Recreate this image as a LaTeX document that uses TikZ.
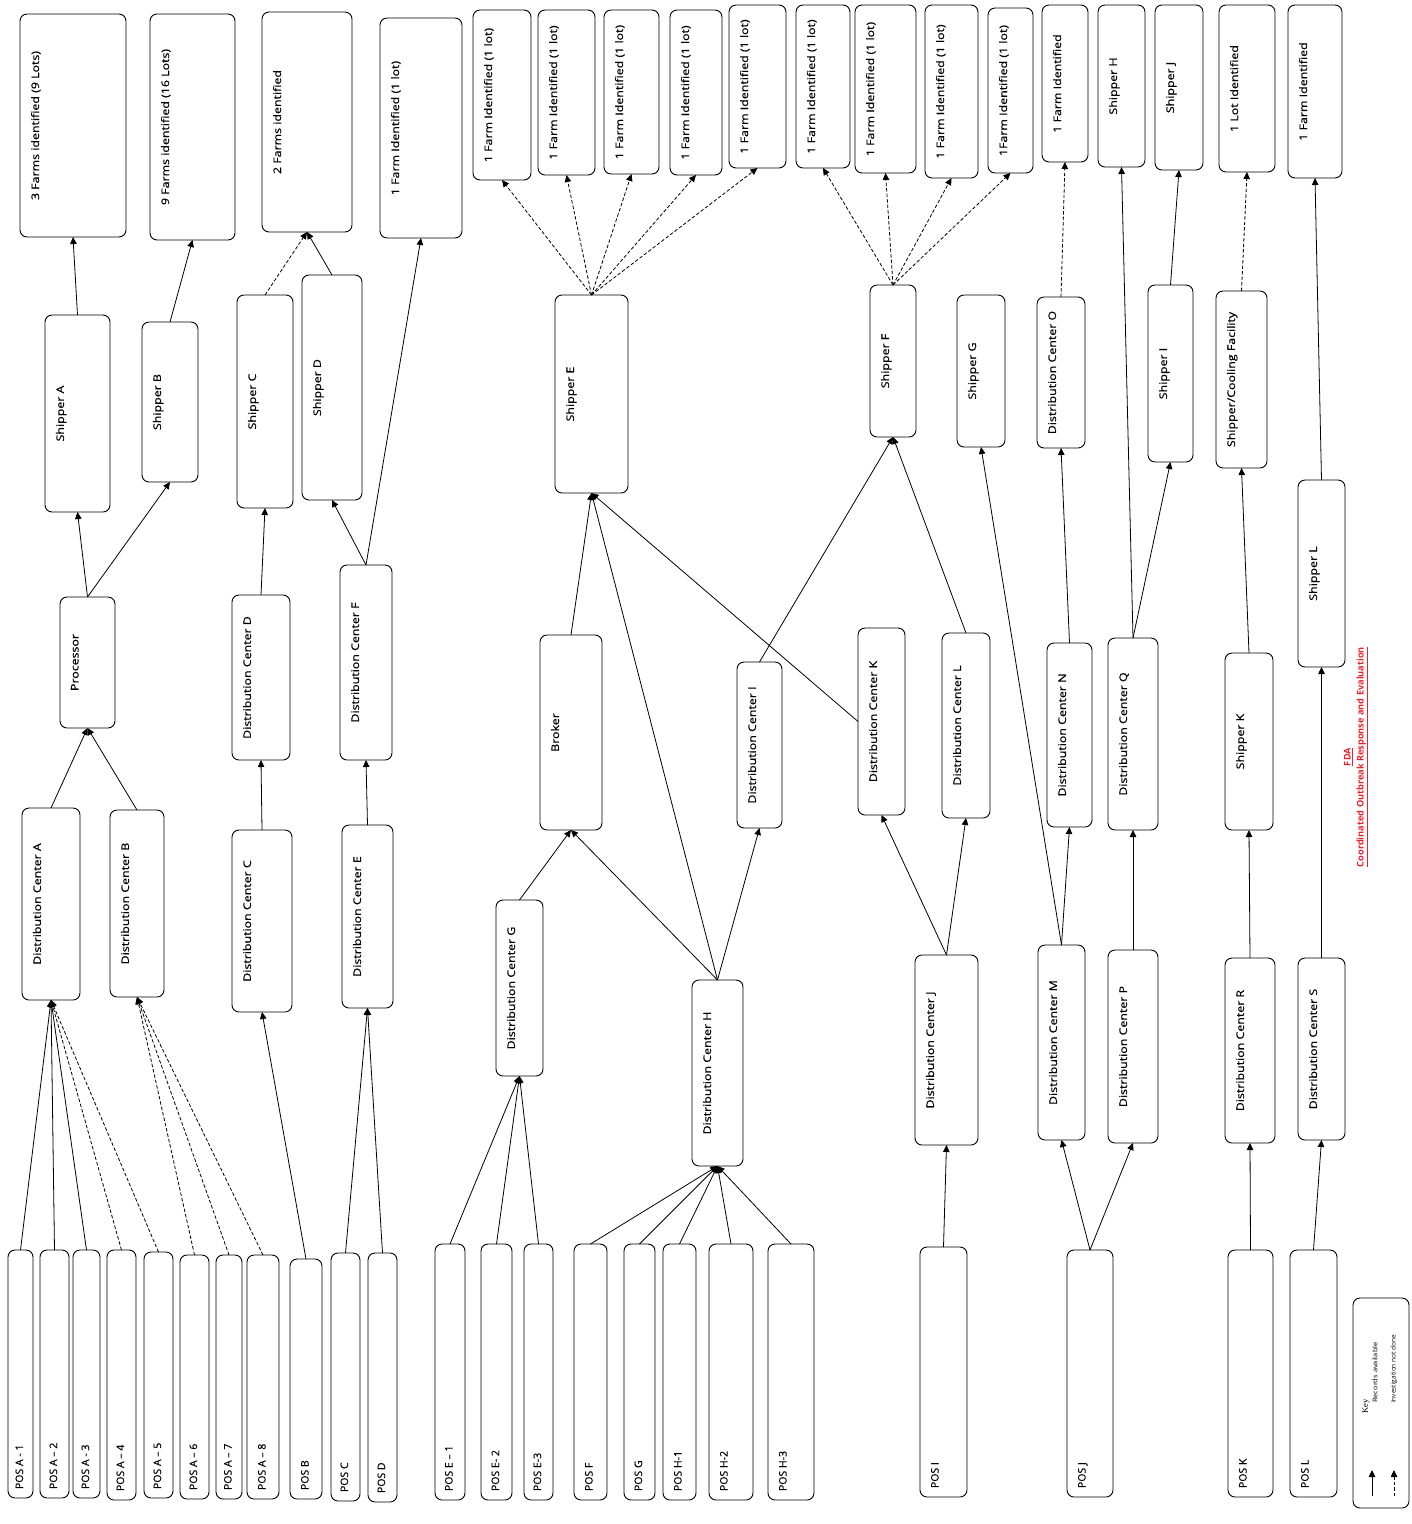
\documentclass[tikz,border=0pt]{standalone}
\usepackage{fontspec}
\setmainfont{Open Sans}
\newfontfamily\boxfont[FakeBold=0.35]{Open Sans}
\newfontfamily\keyfont{Liberation Serif}
\usetikzlibrary{arrows.meta}
\definecolor{fdared}{RGB}{230,35,45}
\tikzset{
  box/.style={draw, line width=0.9pt, rounded corners=7pt, rotate=90, inner sep=0pt, outer sep=0pt,
    font=\boxfont\fontsize{10.5pt}{12pt}\selectfont},
  arr/.style={line width=0.8pt, -{Triangle[length=7pt,width=6.5pt]}},
  dsh/.style={arr, dash pattern=on 3.5pt off 2pt},
}
% name, x1, y1, x2, y2, text  (pixel coordinates of the reference)
\newcommand\bx[6]{%
  \pgfmathsetmacro\rsCX{(#2+#4)/2}%
  \pgfmathsetmacro\rsCY{(#3+#5)/2}%
  \pgfmathsetmacro\rsL{#5-#3}%
  \pgfmathsetmacro\rsW{#4-#2}%
  \pgfmathsetmacro\rsP{min(16,\rsW/2)-5}%
  \node[box] (#1) at (\rsCX,\rsCY) {\parbox[c][\rsW pt][t]{\rsL pt}{\centering\vspace*{\rsP pt}\scalebox{1.18}[1]{#6}\par}};
}
\newcommand\posbx[6]{%
  \pgfmathsetmacro\rsCX{(#2+#4)/2}%
  \pgfmathsetmacro\rsCY{(#3+#5)/2}%
  \pgfmathsetmacro\rsL{#5-#3}%
  \pgfmathsetmacro\rsW{#4-#2}%
  \pgfmathsetmacro\rsP{min(16,\rsW/2)-5}%
  \node[box] (#1) at (\rsCX,\rsCY) {\parbox[c][\rsW pt][t]{\rsL pt}{\vspace*{\rsP pt}\hspace*{9pt}#6\par}};
}
\begin{document}
\begin{tikzpicture}[x=1pt,y=-1pt]
\useasboundingbox (0,0) rectangle (1412,1524);
% ---------------- left group
\bx{farmA}{20}{14}{126}{237}{3 Farms identified (9 Lots)}
\bx{farmB}{150}{14}{235}{240}{9 Farms identified (16 Lots)}
\bx{farmCD}{262}{12}{352}{232}{2 Farms identified}
\bx{farmFa}{380}{18}{462}{238}{1 Farm Identified (1 lot)}
\bx{shA}{45}{315}{110}{512}{Shipper A}
\bx{shB}{142}{322}{198}{482}{Shipper B}
\bx{shC}{237}{295}{293}{508}{Shipper C}
\bx{shD}{302}{275}{362}{500}{Shipper D}
\bx{proc}{60}{597}{115}{728}{Processor}
\bx{dcA}{22}{808}{80}{1000}{Distribution Center A}
\bx{dcB}{110}{810}{164}{997}{Distribution Center B}
\bx{dcD}{232}{595}{290}{760}{Distribution Center D}
\bx{dcC}{232}{830}{292}{1012}{Distribution Center C}
\bx{dcF}{340}{565}{392}{760}{Distribution Center F}
\bx{dcE}{342}{825}{393}{1008}{Distribution Center E}
\posbx{pA1}{8}{1250}{33}{1498}{POS A - 1}
\posbx{pA2}{40}{1250}{69}{1498}{POS A – 2}
\posbx{pA3}{73}{1250}{100}{1498}{POS A - 3}
\posbx{pA4}{107}{1250}{136}{1500}{POS A – 4}
\posbx{pA5}{144}{1252}{173}{1498}{POS A – 5}
\posbx{pA6}{180}{1255}{209}{1499}{POS A – 6}
\posbx{pA7}{216}{1255}{242}{1499}{POS A – 7}
\posbx{pA8}{247}{1255}{279}{1499}{POS A – 8}
\posbx{pB}{290}{1259}{322}{1499}{POS B}
\posbx{pC}{331}{1253}{360}{1501}{POS C}
\posbx{pD}{368}{1253}{397}{1502}{POS D}
% ---------------- middle group
\bx{farmE1}{473}{10}{531}{180}{1 Farm Identified (1 lot)}
\bx{farmE2}{538}{10}{595}{175}{1 Farm Identified (1 lot)}
\bx{farmE3}{604}{10}{659}{174}{1 Farm Identified (1 lot)}
\bx{farmE4}{670}{10}{722}{175}{1 Farm Identified (1 lot)}
\bx{farmE5}{729}{5}{786}{168}{1 Farm Identified (1 lot)}
\bx{shE}{555}{295}{628}{493}{Shipper E}
\bx{broker}{540}{635}{602}{830}{Broker}
\bx{dcG}{496}{900}{543}{1076}{Distribution Center G}
\bx{dcH}{692}{980}{743}{1166}{Distribution Center H}
\posbx{pE1}{435}{1244}{465}{1500}{POS E – 1}
\posbx{pE2}{481}{1244}{512}{1500}{POS E- 2}
\posbx{pE3}{524}{1244}{553}{1500}{POS E-3}
\posbx{pF}{574}{1244}{607}{1500}{POS F}
\posbx{pG}{624}{1244}{655}{1500}{POS G}
\posbx{pH1}{663}{1244}{696}{1500}{POS H-1}
\posbx{pH2}{709}{1244}{753}{1500}{POS H-2}
\posbx{pH3}{768}{1244}{814}{1500}{POS H-3}
\bx{dcI}{737}{662}{782}{828}{Distribution Center I}
\bx{dcK}{858}{628}{905}{815}{Distribution Center K}
\bx{dcL}{942}{633}{990}{818}{Distribution Center L}
\bx{dcJ}{915}{955}{978}{1145}{Distribution Center J}
\posbx{pI}{920}{1247}{967}{1497}{POS I}
\bx{shF}{870}{285}{916}{437}{Shipper F}
\bx{shG}{957}{295}{1005}{447}{Shipper G}
\bx{farmF1}{796}{5}{850}{168}{1 Farm Identified (1 lot)}
\bx{farmF2}{855}{5}{916}{173}{1 Farm Identified (1 lot)}
\bx{farmF3}{925}{5}{978}{178}{1 Farm Identified (1 lot)}
\bx{farmF4}{988}{8}{1033}{173}{1Farm Identified (1 lot)}
% ---------------- right group
\bx{farmO}{1042}{5}{1088}{162}{1 Farm Identified}
\bx{shH}{1098}{5}{1145}{167}{Shipper H}
\bx{shJ}{1155}{5}{1203}{170}{Shipper J}
\bx{lotK}{1219}{5}{1275}{172}{1 Lot Identified}
\bx{farmL}{1288}{5}{1342}{178}{1 Farm Identified}
\bx{dcO}{1037}{297}{1085}{448}{Distribution Center O}
\bx{shI}{1148}{285}{1193}{462}{Shipper I}
\bx{shCool}{1216}{291}{1267}{468}{Shipper/Cooling Facility}
\bx{shL}{1298}{480}{1345}{667}{Shipper L}
\bx{dcN}{1047}{643}{1092}{827}{Distribution Center N}
\bx{dcQ}{1108}{638}{1158}{830}{Distribution Center Q}
\bx{shK}{1225}{653}{1273}{830}{Shipper K}
\bx{dcM}{1038}{945}{1085}{1140}{Distribution Center M}
\bx{dcP}{1108}{950}{1158}{1143}{Distribution Center P}
\bx{dcR}{1225}{958}{1275}{1143}{Distribution Center R}
\bx{dcS}{1298}{958}{1345}{1140}{Distribution Center S}
\posbx{pJ}{1067}{1250}{1113}{1497}{POS J}
\posbx{pK}{1228}{1250}{1273}{1497}{POS K}
\posbx{pL}{1290}{1250}{1337}{1497}{POS L}
% ---------------- edges, left
\foreach \s in {pA1,pA2,pA3} \draw[arr] (\s.east) -- (dcA.west);
\foreach \s in {pA4,pA5} \draw[dsh] (\s.east) -- (dcA.west);
\foreach \s in {pA6,pA7,pA8} \draw[dsh] (\s.east) -- (dcB.west);
\draw[arr] (pB.east) -- (dcC.west);
\draw[arr] (pC.east) -- (dcE.west);
\draw[arr] (pD.east) -- (dcE.west);
\draw[arr] (dcE.east) -- (dcF.west);
\draw[arr] (dcF.east) -- (shD.west);
\draw[arr] (dcF.east) -- (farmFa.west);
\draw[arr] (dcC.east) -- (dcD.west);
\draw[arr] (dcD.east) -- (shC.west);
\draw[dsh] (shC.east) -- (farmCD.west);
\draw[arr] (shD.east) -- (farmCD.west);
\draw[arr] (dcA.east) -- (proc.west);
\draw[arr] (dcB.east) -- (proc.west);
\draw[arr] (proc.east) -- (shA.west);
\draw[arr] (proc.east) -- (shB.west);
\draw[arr] (shA.east) -- (farmA.west);
\draw[arr] (shB.east) -- (farmB.west);
% ---------------- edges, middle
\foreach \s in {pE1,pE2,pE3} \draw[arr] (\s.east) -- (dcG.west);
\draw[arr] (dcG.east) -- (broker.west);
\foreach \s in {pF,pG,pH1,pH2,pH3} \draw[arr] (\s.east) -- (dcH.west);
\draw[arr] (dcH.east) -- (broker.west);
\draw[arr] (dcH.east) -- (shE.west);
\draw[arr] (dcH.east) -- (dcI.west);
\draw[arr] (broker.east) -- (shE.west);
\draw[arr] (dcK.north) -- (shE.west);
\draw[arr] (dcI.east) -- (shF.west);
\draw[arr] (dcL.east) -- (shF.west);
\draw[arr] (pI.east) -- (dcJ.west);
\draw[arr] (dcJ.east) -- (dcK.west);
\draw[arr] (dcJ.east) -- (dcL.west);
\foreach \t in {farmE1,farmE2,farmE3,farmE4,farmE5} \draw[dsh] (shE.east) -- (\t.west);
\foreach \t in {farmF1,farmF2,farmF3,farmF4} \draw[dsh] (shF.east) -- (\t.west);
% ---------------- edges, right
\draw[arr] (pJ.east) -- (dcM.west);
\draw[arr] (pJ.east) -- (dcP.west);
\draw[arr] (dcM.east) -- (dcN.west);
\draw[arr] (dcM.east) -- (shG.west);
\draw[arr] (dcN.east) -- (dcO.west);
\draw[dsh] (dcO.east) -- (farmO.west);
\draw[arr] (dcP.east) -- (dcQ.west);
\draw[arr] (dcQ.east) -- (shH.west);
\draw[arr] (dcQ.east) -- (shI.west);
\draw[arr] (shI.east) -- (shJ.west);
\draw[arr] (pK.east) -- (dcR.west);
\draw[arr] (dcR.east) -- (shK.west);
\draw[arr] (shK.east) -- (shCool.west);
\draw[dsh] (shCool.east) -- (lotK.west);
\draw[arr] (pL.east) -- (dcS.west);
\draw[arr] (dcS.east) -- (shL.west);
\draw[arr] (shL.east) -- (farmL.west);
% ---------------- title
\node[rotate=90, align=center, text=fdared, font=\bfseries\fontsize{9.2pt}{13pt}\selectfont] (fda) at (1356,757)
  {\underline{FDA}\\\underline{Coordinated Outbreak Response and Evaluation}};
% ---------------- key
\node[draw, line width=0.9pt, rounded corners=7pt, minimum width=56pt, minimum height=210pt, inner sep=0pt] (key) at (1381,1403) {};
\node[rotate=90, anchor=west, inner sep=0pt, font=\keyfont\fontsize{8.5pt}{9pt}\selectfont] (keyt) at (1366,1414) {Key};
\node[rotate=90, anchor=west, inner sep=0pt, font=\fontsize{6.5pt}{7pt}\selectfont] (k1) at (1375,1403) {\scalebox{1.15}[1]{Records available}};
\node[rotate=90, anchor=west, inner sep=0pt, font=\fontsize{6.5pt}{7pt}\selectfont] (k2) at (1394,1403) {Investigation not done};
\coordinate (ka) at (1372,1496);
\coordinate (kb) at (1372,1470);
\coordinate (kc) at (1394,1496);
\coordinate (kd) at (1394,1470);
\draw[arr] (ka) -- (kb);
\draw[dsh] (kc) -- (kd);
\end{tikzpicture}
\end{document}
